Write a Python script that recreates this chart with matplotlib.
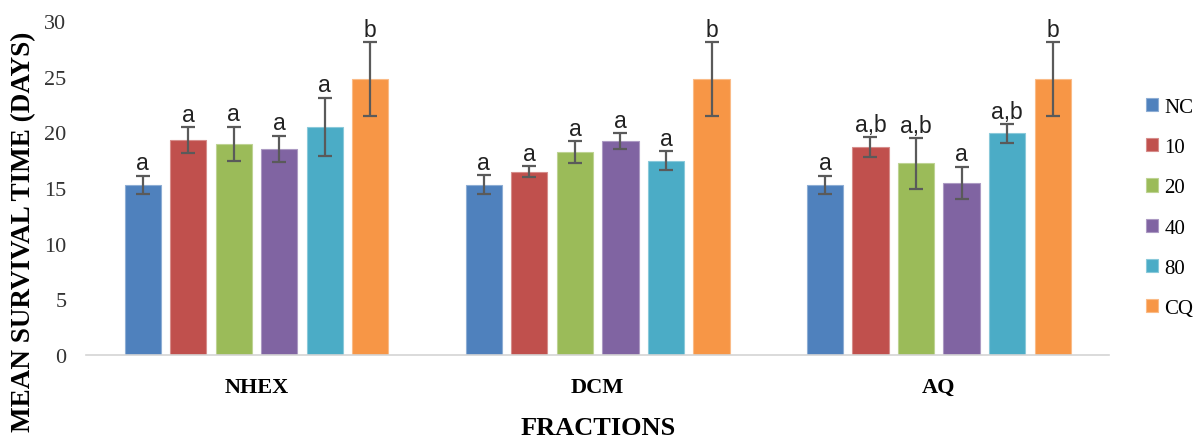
import numpy as np
import matplotlib
matplotlib.use('Agg')
import matplotlib.pyplot as plt
import matplotlib.colors as mcolors

######################################################################
## data: mean survival time per fraction and dose group
fractions = ['NHEX', 'DCM', 'AQ']
groups = ['NC', '10', '20', '40', '80', 'CQ']

means = {
    'NC': [15.3, 15.3, 15.3],
    '10': [19.3, 16.45, 18.65],
    '20': [18.95, 18.2, 17.2],
    '40': [18.5, 19.2, 15.45],
    '80': [20.5, 17.45, 19.9],
    'CQ': [24.8, 24.8, 24.8],
}
errors = {
    'NC': [0.8, 0.85, 0.8],
    '10': [1.15, 0.5, 0.9],
    '20': [1.55, 1.0, 2.25],
    '40': [1.2, 0.7, 1.45],
    '80': [2.6, 0.85, 0.85],
    'CQ': [3.3, 3.3, 3.3],
}
letters = {
    'NC': ['a', 'a', 'a'],
    '10': ['a', 'a', 'a,b'],
    '20': ['a', 'a', 'a,b'],
    '40': ['a', 'a', 'a'],
    '80': ['a', 'a', 'a,b'],
    'CQ': ['b', 'b', 'b'],
}
colors = ['#4F81BD', '#C0504D', '#9BBB59', '#8064A2', '#4BACC6', '#F79646']

######################################################################
## plot
serif = ['Liberation Serif', 'DejaVu Serif']

def lighter(c, amt=0.35):
    rgb = np.array(mcolors.to_rgb(c))
    return tuple(rgb + (1 - rgb) * amt)

fig = plt.figure(figsize=(11.97, 4.39), dpi=100)
ax = fig.add_axes([0.0718, 0.189, 0.855, 0.761])

x = np.arange(len(fractions))
step = 0.1335
width = 0.106

for i, g in enumerate(groups):
    pos = x + (i - 2.5) * step
    ax.bar(pos, means[g], width, color=colors[i], edgecolor=lighter(colors[i]),
           linewidth=0.8, label=g, zorder=2)
    ax.errorbar(pos, means[g], yerr=errors[g], fmt='none', ecolor='#5a5a5a',
                elinewidth=1.6, capsize=4.8, capthick=1.6, zorder=3)
    for p, m, e, t in zip(pos, means[g], errors[g], letters[g]):
        ax.annotate(t, (p, m + e), xytext=(0, 1), textcoords='offset points',
                    ha='center', va='bottom', fontsize=16.5,
                    family='Liberation Sans', color='#222222')

ax.set_xlim(-0.5, 2.5)
ax.set_ylim(0, 30)
ax.set_yticks(range(0, 31, 5))
ax.set_xticks(x)
ax.set_xticklabels(fractions, family=serif, fontweight='bold', fontsize=16)
for lbl in ax.get_yticklabels():
    lbl.set_family(serif)
    lbl.set_fontsize(16)
ax.tick_params(axis='y', length=0, pad=14, colors='#333333')
ax.tick_params(axis='x', length=0, pad=16)

for s in ['top', 'right', 'left']:
    ax.spines[s].set_visible(False)
ax.spines['bottom'].set_color('#d4d4d4')
ax.spines['bottom'].set_linewidth(1.2)

fig.text(0.02, 0.472, 'MEAN SURVIVAL TIME (DAYS)', rotation=90, ha='center',
         va='center', family=serif, fontweight='bold', fontsize=19.5)
fig.text(0.5, 0.025, 'FRACTIONS', ha='center', va='center', family=serif,
         fontweight='bold', fontsize=19)

ax.legend(loc='center left', bbox_to_anchor=(0.957, 0.524),
          bbox_transform=fig.transFigure, frameon=False,
          prop={'family': serif, 'size': 15}, handlelength=0.6,
          handleheight=0.6, handletextpad=0.3, labelspacing=1.02,
          borderpad=0, borderaxespad=0)

fig.savefig('out.png', dpi=100)
